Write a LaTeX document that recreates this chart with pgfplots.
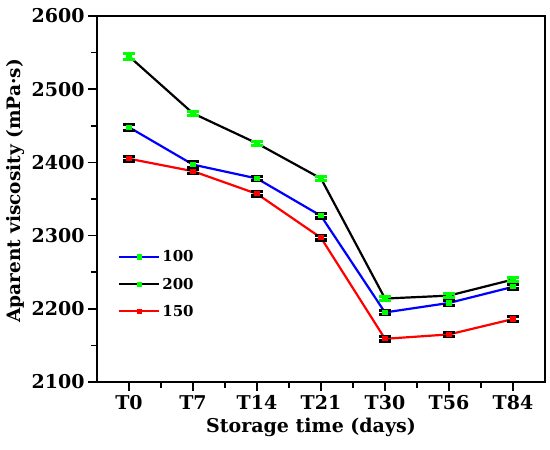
\documentclass[border=0pt]{standalone}
\usepackage{fontspec}
\setmainfont{DejaVu Serif}
\usepackage{pgfplots}
\usepackage{pgfplotstable}
\pgfplotsset{compat=1.18}
\definecolor{mygreen}{RGB}{0,255,0}
\pgfplotstableread{
x y e
0 2448 4
1 2397 4
2 2378 3
3 2327 3
4 2195 3
5 2208 3
6 2230 3
}\tA
\pgfplotstableread{
x y e
0 2545 4
1 2467 3
2 2426 3
3 2378 3
4 2214 3
5 2218 3
6 2240 3
}\tB
\pgfplotstableread{
x y e
0 2405 3
1 2388 3
2 2357 3
3 2297 3
4 2159 3
5 2165 3
6 2186 3
}\tC
\begin{document}
\begin{tikzpicture}
\begin{axis}[name=ax,
  scale only axis, width=448pt, height=366pt,
  xmin=-0.5, xmax=6.5, ymin=2100, ymax=2600,
  xtick={0,...,6}, xticklabels={T0,T7,T14,T21,T30,T56,T84},
  minor x tick num=1,
  ytick={2100,2200,...,2600}, minor y tick num=1,
  tick align=outside, xtick pos=bottom, ytick pos=left,
  major tick length=9pt, minor tick length=6pt,
  every tick/.style={line width=1.5pt, black},
  axis line style={line width=1.8pt},
  /pgf/number format/assume math mode=true,
  /pgf/number format/1000 sep={},
  tick label style={font=\bfseries\fontsize{19}{21}\selectfont},
  xticklabel style={yshift=-1pt},
  xlabel={Storage time (days)}, ylabel={Aparent viscosity (mPa·s)},
  xlabel style={font=\bfseries\fontsize{19}{21}\selectfont, yshift=-1pt, xshift=-10pt},
  ylabel style={font=\bfseries\fontsize{18.5}{21}\selectfont, yshift=0pt, xshift=8pt},
  legend style={draw=none, fill=none, at={(rel axis cs:0.04,0.37)}, anchor=north west,
    font=\bfseries\fontsize{15}{17}\selectfont, row sep=10.5pt},
  legend cell align=left,
  legend image code/.code={\draw[mark repeat=2,mark phase=2] plot coordinates {(0pt,0pt)(20pt,0pt)(40pt,0pt)};},
]
\addplot[blue, line width=2.2pt, mark=square*, mark size=1.5pt, mark options={draw=mygreen, fill=mygreen}] table[x=x,y=y]{\tA};
\addlegendentry{100}
\addplot[black, line width=2.2pt, mark=square*, mark size=1.5pt, mark options={draw=mygreen, fill=mygreen}] table[x=x,y=y]{\tB};
\addlegendentry{200}
\addplot[red, line width=2.2pt, mark=square*, mark size=1.5pt, mark options={draw=red, fill=red}] table[x=x,y=y]{\tC};
\addlegendentry{150}
\addplot[draw=none, forget plot, error bars/.cd, y dir=both, y explicit,
  error bar style={line width=2.5pt, black}, error mark options={rotate=90, mark size=6pt, line width=3.2pt, black}]
  table[x=x,y=y,y error=e]{\tA};
\addplot[draw=none, forget plot, error bars/.cd, y dir=both, y explicit,
  error bar style={line width=2.5pt, black}, error mark options={rotate=90, mark size=6pt, line width=3.2pt, black}]
  table[x=x,y=y,y error=e]{\tC};
\addplot[draw=none, forget plot, error bars/.cd, y dir=both, y explicit,
  error bar style={line width=3pt, mygreen}, error mark options={rotate=90, mark size=6pt, line width=3.2pt, mygreen}]
  table[x=x,y=y,y error=e]{\tB};
\end{axis}
\pgfresetboundingbox
\path (ax.south west) ++(-97pt,-68pt) rectangle ++(550pt,450pt);
\end{tikzpicture}
\end{document}
